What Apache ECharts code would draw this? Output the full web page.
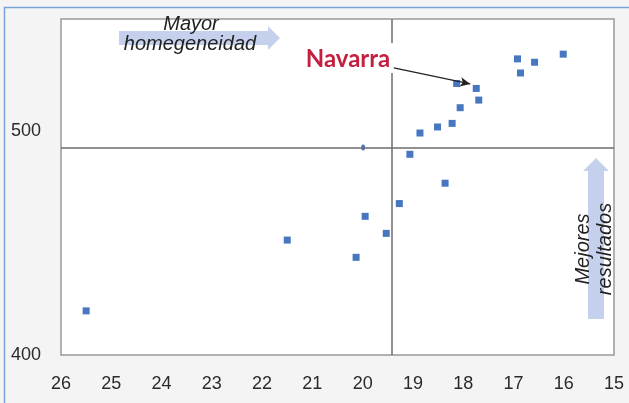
<!DOCTYPE html>
<html>
<head>
<meta charset="utf-8">
<script src="https://cdn.jsdelivr.net/npm/echarts@6/dist/echarts.min.js"></script>
<style>
  html, body { margin: 0; padding: 0; background: #f4f4f4; }
  #chart { width: 629px; height: 403px; }
</style>
</head>
<body>
<div id="chart"></div>
<script>
// x = dispersion (axis runs backwards), y = score
var xVals = [16.01, 16.92, 16.58, 16.86, 18.13, 17.74, 17.69, 18.06, 18.22, 18.51,
             18.86, 19.06, 18.36, 19.27, 19.95, 19.53, 20.13, 21.50, 25.50];
var yVals = [534.3, 532.2, 530.7, 525.9, 521.2, 519.0, 513.8, 510.4, 503.4, 501.8,
             499.1, 489.6, 476.7, 467.6, 461.9, 454.3, 443.6, 451.3, 419.7];
var smallPt = [[19.99, 492.6]];
var refX = [19.43];          // vertical reference line
var refY = [492.6];          // horizontal reference line
var navarraArrow = [[19.38, 528.2], [17.86, 521.0]];
var xTicks = [15, 26, 1];    // min, max, step
var yTicks = [400, 550, 100];

var points = xVals.map(function (x, i) { return [x, yVals[i]]; });

var tickFont = "'Liberation Sans', Arial, sans-serif";
var italic = "'Liberation Sans', Arial, sans-serif";
var arrowColor = '#c5d1ec';

var option = {
  animation: false,
  backgroundColor: '#f4f4f4',
  grid: {
    left: 61, right: 15, top: 19, bottom: 48,
    show: true,
    backgroundColor: '#fff',
    borderColor: '#999',
    borderWidth: 1.5
  },
  xAxis: {
    type: 'value',
    inverse: true,
    min: xTicks[0], max: xTicks[1], interval: xTicks[2],
    axisLine: { show: false },
    axisTick: { show: false },
    splitLine: { show: false },
    axisLabel: { fontFamily: tickFont, fontSize: 18, color: '#2a2a2a', margin: 20 }
  },
  yAxis: {
    type: 'value',
    min: yTicks[0], max: yTicks[1], interval: yTicks[2],
    axisLine: { show: false },
    axisTick: { show: false },
    splitLine: { show: false },
    axisLabel: { fontFamily: tickFont, fontSize: 18, color: '#2a2a2a', margin: 20, showMaxLabel: false }
  },
  series: [
    {
      type: 'scatter',
      data: points,
      symbol: 'rect',
      symbolSize: 7,
      itemStyle: { color: '#4677c0', opacity: 1 },
      z: 3,
      markLine: {
        silent: true,
        symbol: 'none',
        label: { show: false },
        lineStyle: { color: '#6d6d6d', width: 1.5, type: 'solid' },
        data: [
          { xAxis: refX[0] },
          { yAxis: refY[0] },
          [
            { coord: navarraArrow[0], symbol: 'none', lineStyle: { color: '#222', width: 1.2 } },
            { coord: navarraArrow[1], symbol: 'arrow', symbolSize: [7, 10] }
          ]
        ]
      }
    },
    {
      type: 'scatter',
      data: smallPt,
      symbol: 'circle',
      symbolSize: [4, 6],
      itemStyle: { color: '#4677c0', opacity: 1 },
      z: 4
    }
  ],
  graphic: [
    // outer frame
    { type: 'rect', z: -10, shape: { x: 4.5, y: 7.5, width: 700, height: 500 },
      style: { fill: 'none', stroke: '#7aa2d8', lineWidth: 1.5 } },
    // horizontal arrow
    { type: 'polygon', z: 50,
      shape: { points: [[119, 31], [268, 31], [268, 26], [280, 38], [268, 50], [268, 45], [119, 45]] },
      style: { fill: arrowColor } },
    { type: 'text', z: 51, x: 191, y: 24,
      style: { text: 'Mayor', fontFamily: italic, fontStyle: 'italic', fontSize: 20, fill: '#222',
               align: 'center', verticalAlign: 'middle' } },
    { type: 'text', z: 51, x: 190, y: 44,
      style: { text: 'homegeneidad', fontFamily: italic, fontStyle: 'italic', fontSize: 20, fill: '#222',
               align: 'center', verticalAlign: 'middle' } },
    // vertical arrow
    { type: 'polygon', z: 50,
      shape: { points: [[588, 319], [588, 171], [583, 171], [596, 158], [609, 171], [604, 171], [604, 319]] },
      style: { fill: arrowColor } },
    { type: 'text', z: 51, x: 583, y: 249, rotation: Math.PI / 2,
      style: { text: 'Mejores', fontFamily: italic, fontStyle: 'italic', fontSize: 20, fill: '#222',
               align: 'center', verticalAlign: 'middle' } },
    { type: 'text', z: 51, x: 605, y: 249, rotation: Math.PI / 2,
      style: { text: 'resultados', fontFamily: italic, fontStyle: 'italic', fontSize: 20, fill: '#222',
               align: 'center', verticalAlign: 'middle' } },
    // Navarra label
    { type: 'rect', z: 50, shape: { x: 303, y: 43, width: 90, height: 30 }, style: { fill: '#fff' } },
    { type: 'text', z: 51, x: 348, y: 59,
      style: { text: 'Navarra', fontFamily: "Lato, 'Open Sans', sans-serif", fontWeight: 'bold',
               fontSize: 24, fill: '#c51f40', align: 'center', verticalAlign: 'middle' } }
  ]
};

echarts.init(document.getElementById('chart')).setOption(option);
</script>
</body>
</html>
